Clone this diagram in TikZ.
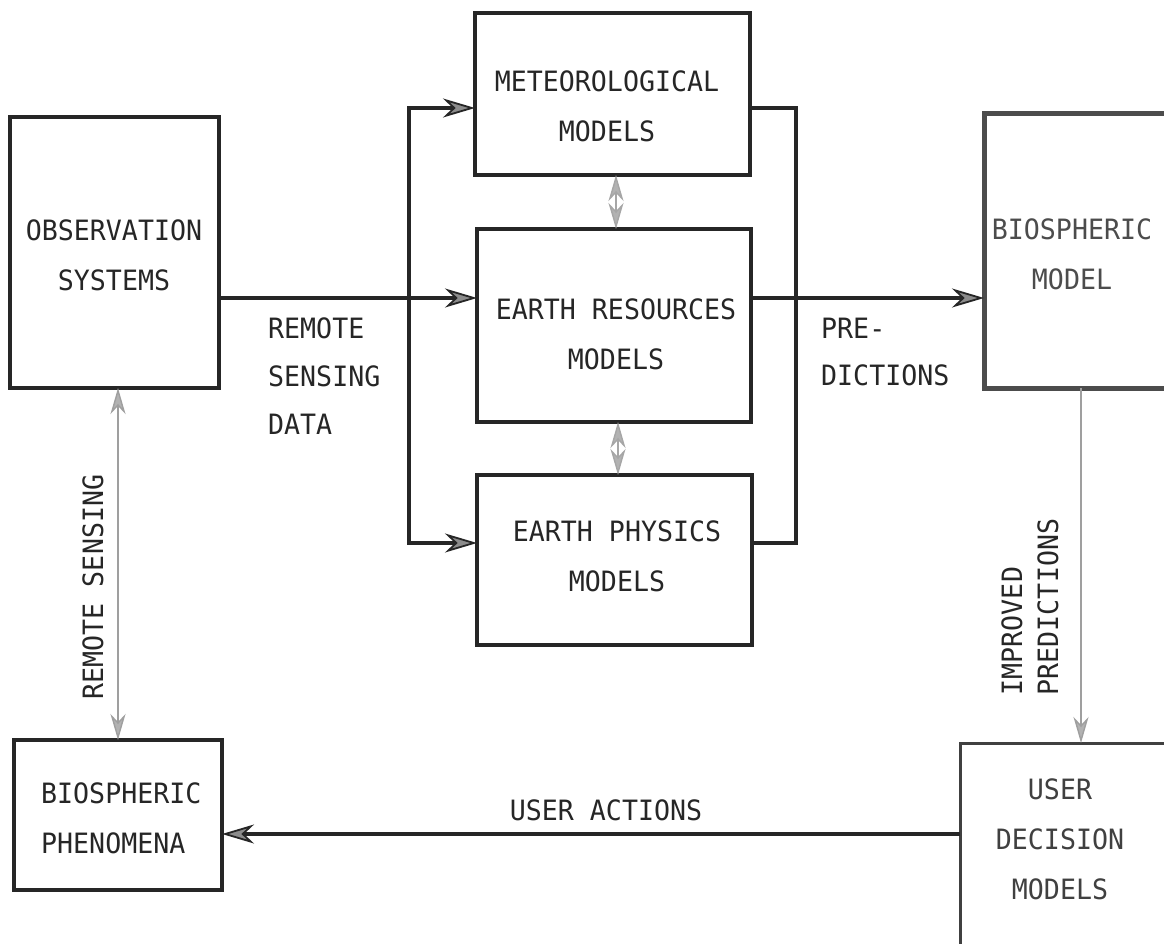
\documentclass[tikz,border=0pt]{standalone}
\usepackage{fontspec}
\newfontfamily\tw[FakeStretch=0.95]{DejaVu Sans Mono}
\usetikzlibrary{arrows.meta}
\tikzset{
  boxnode/.style={draw=black!85, line width=3.4pt, rectangle, inner sep=0pt, outer sep=0pt},
  txt/.style={font=\tw\fontsize{28}{50}\selectfont, text=black!85, inner sep=0pt, align=center},
  bigtip/.tip={Stealth[length=32pt,width=19pt,inset=10pt,fill=black!45,line width=1.8pt]},
  smalltip/.tip={Stealth[length=26pt,width=15pt,inset=8pt,fill=black!30,line width=1.4pt]},
  conn/.style={draw=black!85, line width=3.2pt, -bigtip},
  plain/.style={draw=black!85, line width=3.2pt},
  gconn/.style={draw=gray!75, line width=2pt},
  dbl/.style={draw=gray!70, line width=1.6pt, smalltip-smalltip},
}
\begin{document}
\begin{tikzpicture}[x=1pt,y=-1pt]
\useasboundingbox (0,0) rectangle (1164,944);
\clip (0,0) rectangle (1164,944);
\fill[white] (0,0) rectangle (1164,944);

% boxes
\node[boxnode, minimum width=209pt, minimum height=271pt] (obs) at (114.5,252.5) {};
\node[boxnode, minimum width=275pt, minimum height=162pt] (met) at (612.5,94) {};
\node[boxnode, minimum width=274pt, minimum height=193pt] (er) at (614,325.5) {};
\node[boxnode, minimum width=275pt, minimum height=170pt] (ep) at (614.5,560) {};
\node[boxnode, draw=gray!60!black, line width=5pt, minimum width=195pt, minimum height=274pt] (bm) at (1081.5,251) {};
\node[boxnode, minimum width=208pt, minimum height=150pt] (bp) at (118,815) {};
\node[boxnode, draw=black!75, line width=3pt, minimum width=215pt, minimum height=217pt] (udm) at (1067.5,851.5) {};

% box texts
\node[txt] (obst) at (114,255) {OBSERVATION\\SYSTEMS};
\node[txt] (mett) at (607,106) {METEOROLOGICAL\\MODELS};
\node[txt] (ert) at (616,334) {EARTH RESOURCES\\MODELS};
\node[txt] (ept) at (617,556) {EARTH PHYSICS\\MODELS};
\node[txt, text=black!70] (bmt) at (1072,254) {BIOSPHERIC\\MODEL};
\node[txt, align=left, anchor=west] (bpt) at (41,818) {BIOSPHERIC\\PHENOMENA};
\node[txt, text=black!75] (udmt) at (1060,839) {USER\\DECISION\\MODELS};

% connector helper coordinates
\coordinate (lb) at (409,298);
\coordinate (rb) at (796,298);
\coordinate (ipa) at (1081,388);

% observation -> earth resources
\draw[conn] (obs.east |- lb) -- (er.west |- lb);
% left bracket to meteorological / earth physics
\draw[conn] (lb) |- (met.west |- 0,108);
\draw[conn] (lb) |- (ep.west |- 0,543);
% right bracket
\draw[plain] (met.east |- 0,108) -| (rb) |- (ep.east |- 0,543);
% earth resources -> biospheric model
\draw[conn] (er.east |- rb) -- (bm.west |- rb);

% double arrows between model boxes
\draw[dbl] ([xshift=3.5pt]met.south) -- ([xshift=3.5pt]met.south |- er.north);
\draw[dbl] ([xshift=4pt]er.south) -- ([xshift=4pt]er.south |- ep.north);

% remote sensing
\draw[gconn, smalltip-smalltip] (bp.north |- obs.south) -- (bp.north);

% improved predictions
\draw[gconn, -smalltip] (ipa |- bm.south) -- (ipa |- udm.north);

% user actions
\draw[conn] (udm.west |- 0,834) -- (bp.east |- 0,834);

% labels
\node[txt, align=left, anchor=west, font=\tw\fontsize{28}{48}\selectfont] (rsd) at (268,376) {REMOTE\\SENSING\\DATA};
\node[txt, align=left, anchor=west, font=\tw\fontsize{28}{47}\selectfont] (pre) at (821,352) {PRE-\\DICTIONS};
\node[txt, rotate=90] (rs) at (93,587) {REMOTE SENSING};
\node[txt, rotate=90, align=left, font=\tw\fontsize{28}{36}\selectfont] (ip) at (1030,607) {IMPROVED\\PREDICTIONS};
\node[txt] (ua) at (606,810) {USER ACTIONS};
\end{tikzpicture}
\end{document}
